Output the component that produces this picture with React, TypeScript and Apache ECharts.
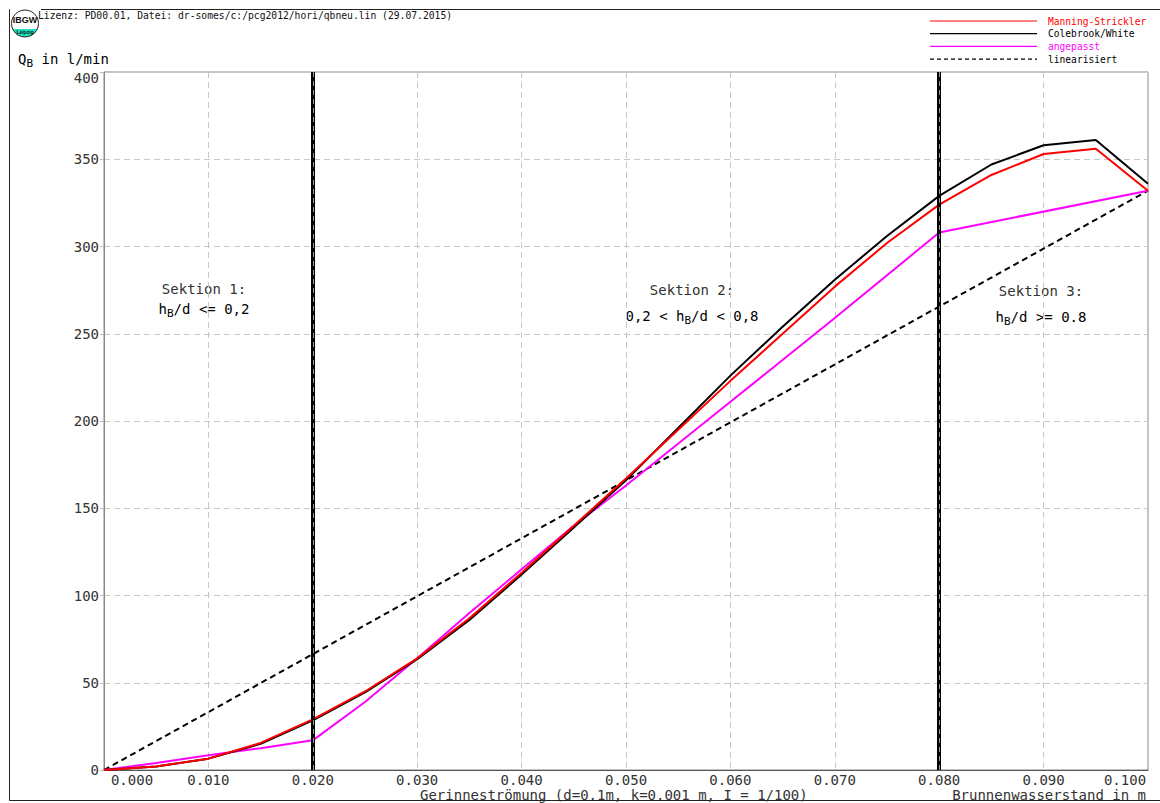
import React, { useEffect, useRef } from 'react';
import * as echarts from 'echarts';

// x positions (Brunnenwasserstand in m)
const xValues = [0, 0.005, 0.01, 0.015, 0.02, 0.025, 0.03, 0.035, 0.04, 0.045, 0.05, 0.055, 0.06, 0.065, 0.07, 0.075, 0.08, 0.085, 0.09, 0.095, 0.1];
// Q_B in l/min
const manningStrickler = [0, 2, 6.5, 15.5, 29, 45, 64, 87, 113, 140, 167, 195, 223, 250, 277, 302, 324, 341, 353, 356, 332];
const colebrookWhite = [0, 2, 6.5, 15, 28.5, 44.5, 63.5, 86, 112, 139, 166, 196, 226, 254, 281, 306, 329, 347, 358, 361, 336];
const angepasstX = [0, 0.005, 0.01, 0.015, 0.02, 0.025, 0.03, 0.035, 0.04, 0.045, 0.05, 0.06, 0.07, 0.08, 0.1];
const angepasst = [0, 4, 8.5, 12.5, 17, 39, 64, 90, 115, 140, 163, 211, 259, 308, 332];
const linearX = [0, 0.02, 0.08, 0.1];
const linearisiert = [0, 66.4, 265.6, 332];
const sectionBounds = [0.02, 0.08];

const legendNames = ['Manning-Strickler', 'Colebrook/White', 'angepasst', 'linearisiert'];
const colors = ['#ff0000', '#000000', '#ff00ff', '#000000'];

const M = '"DejaVu Sans Mono","Liberation Mono",monospace';
const FR = '"Liberation Sans",Arial,sans-serif';
const TXT = '#333';

const pairs = (xs: number[], ys: number[]) => xs.map((x, i) => [x, ys[i]]);

export default function App() {
  const ref = useRef<HTMLDivElement>(null);
  useEffect(() => {
    if (!ref.current) return;
    const chart = echarts.init(ref.current, undefined, { renderer: 'svg' });
    const richSub = {
      n: { fontSize: 14, fontFamily: M, color: TXT, lineHeight: 18 },
      s: { fontSize: 11, fontFamily: M, color: TXT, lineHeight: 18, padding: [8, 0, 0, 0] },
    };
    const legendGraphics: any[] = [];
    legendNames.forEach((name, i) => {
      const y = 21 + i * 12.7;
      legendGraphics.push({
        type: 'line',
        shape: { x1: 930, y1: y, x2: 1037, y2: y },
        style: { stroke: colors[i], lineWidth: 1.2, lineDash: i === 3 ? [4, 3] : null },
        silent: true,
      });
      legendGraphics.push({
        type: 'text',
        x: 1048,
        y,
        style: { text: name, fill: i === 3 ? '#000' : colors[i], font: `9.6px ${M}`, verticalAlign: 'middle' },
      });
    });
    const sectionText = (cx: number, y1: number, y2: number, t1: string, t2: string) => [
      { type: 'text', x: cx, y: y1, style: { text: t1, font: `14px ${M}`, fill: TXT, align: 'center', verticalAlign: 'middle' } },
      { type: 'text', x: cx, y: y2, style: { text: t2, rich: richSub, align: 'center', verticalAlign: 'middle' } },
    ];

    chart.setOption({
      animation: false,
      backgroundColor: '#fff',
      grid: { left: 104, width: 1044, top: 72, height: 698, outerBoundsMode: 'none', containLabel: false, show: true, borderColor: '#888', borderWidth: 1 },
      xAxis: {
        type: 'value', min: 0, max: 0.1, interval: 0.01,
        axisLine: { lineStyle: { color: '#555' } },
        axisTick: { show: false },
        splitLine: { show: true, lineStyle: { color: '#c8c8c8', type: [6, 4] } },
        axisLabel: {
          margin: 3, fontFamily: M, fontSize: 14, color: TXT,
          formatter: (v: number) => (v === 0 ? '{f|0.000}' : v >= 0.0999 ? '{l|0.100}' : v.toFixed(3)),
          rich: {
            f: { fontFamily: M, fontSize: 14, color: TXT, padding: [0, 0, 0, 56] },
            l: { fontFamily: M, fontSize: 14, color: TXT, padding: [0, 46, 0, 0] },
          },
        },
      },
      yAxis: {
        type: 'value', min: 0, max: 400, interval: 50,
        axisLine: { show: true, lineStyle: { color: '#888' } },
        axisTick: { show: true, length: 4, lineStyle: { color: '#bbb' } },
        splitLine: { show: true, lineStyle: { color: '#c8c8c8', type: [6, 4] } },
        axisLabel: {
          margin: 5, fontFamily: M, fontSize: 14, color: TXT,
          formatter: (v: number) => (v === 400 ? '{t|400}' : String(v)),
          rich: { t: { fontFamily: M, fontSize: 14, color: TXT, padding: [12, 0, 0, 0] } },
        },
      },
      series: [
        {
          name: 'sections', type: 'line', data: [], silent: true,
          markLine: {
            symbol: 'none', silent: true, label: { show: false },
            lineStyle: { color: '#000', width: 4, type: 'solid' },
            data: sectionBounds.map((x) => ({ xAxis: x })),
          },
        },
        {
          name: 'sections2', type: 'line', data: [], silent: true,
          markLine: {
            symbol: 'none', silent: true, label: { show: false },
            lineStyle: { color: '#999', width: 1, type: [5, 4] },
            data: sectionBounds.map((x) => ({ xAxis: x })),
          },
        },
        {
          name: legendNames[3], type: 'line', data: pairs(linearX, linearisiert), showSymbol: false,
          lineStyle: { color: '#000', width: 2, type: [6, 4] },
        },
        {
          name: legendNames[2], type: 'line', data: pairs(angepasstX, angepasst), showSymbol: false,
          lineStyle: { color: '#ff00ff', width: 2 },
        },
        {
          name: legendNames[1], type: 'line', data: pairs(xValues, colebrookWhite), showSymbol: false,
          lineStyle: { color: '#000', width: 2 },
        },
        {
          name: legendNames[0], type: 'line', data: pairs(xValues, manningStrickler), showSymbol: false,
          lineStyle: { color: '#ff0000', width: 2 },
        },
      ],
      graphic: [
        { type: 'rect', shape: { x: 9.5, y: 9.5, width: 1200, height: 791 }, style: { fill: 'none', stroke: '#222', lineWidth: 1 }, silent: true },
        // logo
        { type: 'circle', shape: { cx: 25, cy: 23.5, r: 13.5 }, style: { fill: '#1de0c0', stroke: 'none' } },
        { type: 'rect', shape: { x: 10, y: 9, width: 31, height: 20 }, style: { fill: '#fff' } },
        { type: 'circle', shape: { cx: 25, cy: 23.5, r: 13.5 }, style: { fill: 'none', stroke: '#222', lineWidth: 1 } },
        { type: 'text', x: 25, y: 20, style: { text: 'IBGW', font: `bold 9px ${FR}`, fill: '#111', align: 'center', verticalAlign: 'middle' } },
        { type: 'text', x: 25, y: 32, style: { text: 'Leipzig', font: `bold 5px ${FR}`, fill: '#111', align: 'center', verticalAlign: 'middle' } },
        // header
        { type: 'text', x: 38, y: 15, style: { text: 'Lizenz: PD00.01, Datei: dr-somes/c:/pcg2012/hori/qbneu.lin (29.07.2015)', font: `9.7px ${M}`, fill: '#111', verticalAlign: 'middle' } },
        // y title
        { type: 'text', x: 18, y: 59, style: { text: '{n|Q}{s|B}{n| in l/min}', rich: richSub, verticalAlign: 'middle' } },
        // x titles
        { type: 'text', x: 420, y: 795, style: { text: 'Gerinneströmung (d=0.1m, k=0.001 m, I = 1/100)', font: `14px ${M}`, fill: TXT, verticalAlign: 'middle' } },
        { type: 'text', x: 1146, y: 795, style: { text: 'Brunnenwasserstand in m', font: `14px ${M}`, fill: TXT, align: 'right', verticalAlign: 'middle' } },
        ...sectionText(204, 289, 309, 'Sektion 1:', '{n|h}{s|B}{n|/d <= 0,2}'),
        ...sectionText(692, 290, 316, 'Sektion 2:', '{n|0,2 < h}{s|B}{n|/d < 0,8}'),
        ...sectionText(1041, 291, 317, 'Sektion 3:', '{n|h}{s|B}{n|/d >= 0.8}'),
        ...legendGraphics,
      ],
    });
    return () => chart.dispose();
  }, []);
  return <div ref={ref} style={{ position: 'fixed', left: 0, top: 0, width: 1160, height: 803 }} />;
}
